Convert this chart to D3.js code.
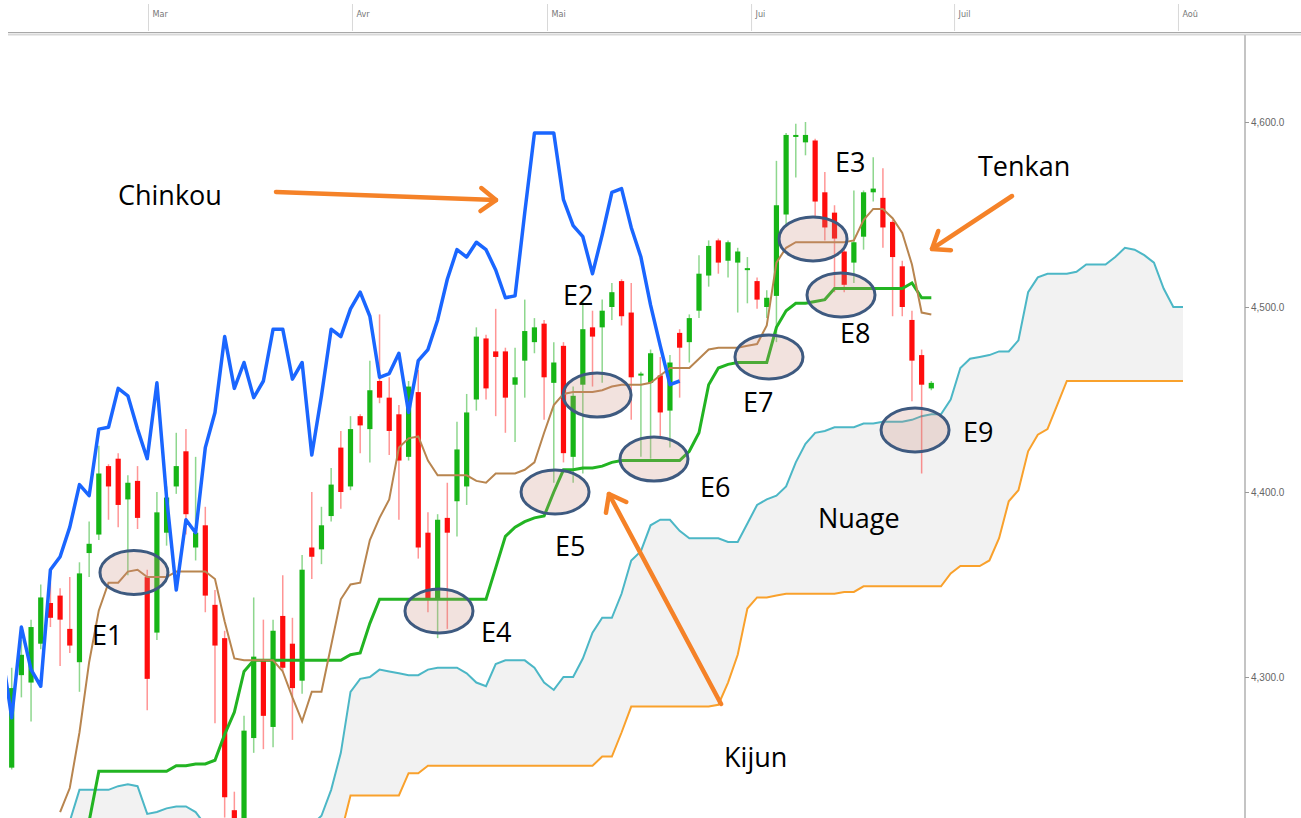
<!DOCTYPE html>
<html>
<head>
<meta charset="utf-8">
<script src="https://cdn.jsdelivr.net/npm/d3@7"></script>
<style>
  body { margin: 0; background: #fff; }
  svg { display: block; }
</style>
</head>
<body>
<div id="chart"></div>
<script>
const monthLabels = ["Mar", "Avr", "Mai", "Jui", "Juil", "Aoû"];
const monthTicks = [14.08, 35.15, 55.3, 76.38, 97.35, 120.48];
const priceTicks = [4300, 4400, 4500, 4600];

// daily candles, index 0..95
const open = [4251,4301,4297,4318,4340,4344,4326,4308,4367,4377, 4414,4418,4396,4406,4354,4324,4378,4403,4422,4370,
  4382,4339,4321,4228,4212,4267,4309,4273,4333,4318, 4298,4370,4369,4387,4424,4403,4441,4434,4460,4451,
  4442,4419,4454,4378,4342,4386,4395,4403,4450,4483, 4476,4476,4458,4471,4481,4491,4459,4479,4419,4458,
  4489,4489,4500,4514,4497,4463,4459,4463,4444,4486, 4481,4498,4517,4536,4525,4524,4520,4514,4500,4506,
  4550,4592,4589,4590,4562,4551,4530,4524,4538,4562, 4559,4546,4522,4493,4474,4456];
const high = [4305,4320,4331,4350,4351,4348,4354,4362,4384,4425, 4415,4421,4409,4414,4358,4400,4403,4432,4434,4419,
  4392,4347,4325,4238,4279,4343,4331,4331,4355,4332, 4366,4400,4392,4413,4433,4441,4442,4471,4496,4462,
  4447,4460,4466,4389,4388,4405,4438,4453,4489,4485, 4499,4478,4478,4504,4494,4493,4481,4481,4457,4503,
  4498,4504,4513,4515,4513,4465,4477,4473,4474,4488, 4496,4528,4536,4537,4536,4532,4527,4516,4509,4579,
  4594,4599,4600,4591,4573,4555,4532,4563,4563,4581, 4575,4547,4525,4498,4477,4460];
const low = [4250,4289,4276,4315,4327,4306,4313,4292,4354,4374, 4385,4381,4355,4380,4282,4320,4371,4399,4377,4363,
  4335,4275,4224,4212,4206,4259,4261,4262,4303,4266, 4291,4353,4361,4384,4391,4401,4421,4416,4448,4420,
  4385,4417,4364,4335,4321,4326,4376,4393,4444,4450, 4441,4432,4427,4451,4475,4439,4405,4416,4405,4410,
  4457,4459,4493,4490,4439,4419,4418,4430,4424,4451, 4470,4494,4511,4518,4516,4497,4502,4499,4494,4481,
  4544,4570,4582,4549,4536,4508,4508,4513,4531,4557, 4532,4495,4495,4449,4410,4455];
const close = [4294,4312,4327,4343,4332,4331,4317,4356,4372,4410, 4403,4393,4405,4386,4299,4389,4397,4414,4388,4378,
  4344,4317,4235,4217,4271,4311,4279,4325,4305,4294, 4358,4365,4382,4404,4400,4434,4436,4455,4451,4433,
  4417,4457,4370,4342,4385,4378,4423,4443,4484,4456, 4473,4451,4462,4487,4489,4462,4470,4421,4452,4488,
  4484,4498,4508,4495,4462,4464,4475,4443,4470,4478, 4494,4518,4533,4524,4535,4530,4521,4504,4505,4555,
  4593,4593,4593,4557,4543,4537,4512,4535,4562,4564, 4543,4527,4500,4471,4458,4459];

// Chinkou (lagging line), starts at index -1
const chinkouStart = -1;
const chinkou = [4313,
  4278,4327,4304,4295,4358,4365,4381,4404,4398,4434, 4435,4456,4452,4434,4418,4459,4397,4347,4385,4378,
  4424,4443,4484,4456,4470,4451,4460,4488,4488,4461, 4470,4420,4452,4488,4484,4499,4508,4495,4462,4464,
  4475,4443,4471,4477,4493,4515,4531,4527,4535,4531, 4520,4505,4506,4551,4594,4594,4594,4558,4544,4538,
  4518,4539,4562,4564,4543,4527,4501,4479,4458,4460];

// Tenkan, starts at index 5
const tenkanStart = 5;
const tenkan = [4227,4240,4270,4308,4336, 4351,4351,4357,4358,4354, 4354,4354,4357,4357,4357,
  4357,4353,4330,4310,4309, 4309,4309,4309,4303,4289, 4276,4292,4292,4317,4342,
  4350,4351,4374,4386,4396, 4424,4429,4430,4417,4409, 4409,4409,4409,4406,4405,
  4410,4410,4410,4412,4416, 4432,4447,4453,4454,4454, 4454,4455,4457,4458,4458,
  4458,4459,4463,4467,4467, 4467,4472,4477,4478,4478, 4478,4479,4480,4490,4524,
  4532,4535,4535,4535,4535, 4535,4535,4536,4547,4553, 4553,4548,4540,4523,4497, 4496];

// Kijun, starts at index 8
const kijunStart = 8;
const kijun = [4222,4249, 4249,4249,4249,4249,4249, 4249,4249,4252,4252,4253,
  4253,4255,4269,4281,4303, 4309,4309,4309,4309,4309, 4309,4309,4309,4309,4309,
  4312,4313,4329,4342,4342, 4342,4342,4342,4342,4342, 4342,4342,4342,4342,4342,
  4359,4376,4381,4384,4386, 4387,4400,4412,4412,4413, 4413,4414,4416,4417,4417,
  4417,4417,4417,4417,4417, 4422,4432,4458,4467,4469, 4470,4470,4470,4470,4489,
  4498,4502,4502,4503,4504, 4510,4510,4510,4510,4510, 4510,4510,4510,4513,4505, 4505];

// Senkou A / B (cloud), start at index 6, run to 121
const cloudStart = 6;
const senkouA = [4222,4239,4239,4239, 4239,4241,4242,4241,4226, 4227,4229,4230,4230,4227,
  4220,4214,4212,4210,4210, 4210,4211,4212,4212,4213, 4215,4220,4225,4239,4259,
  4292,4299,4300,4304,4303, 4302,4301,4301,4304,4305, 4305,4305,4302,4297,4295,
  4307,4309,4309,4309,4305, 4297,4293,4300,4300,4310, 4324,4332,4332,4345,4363,
  4368,4382,4385,4385,4379, 4375,4375,4375,4375,4373, 4373,4383,4393,4396,4398,
  4403,4416,4426,4432,4433, 4435,4435,4435,4437,4437, 4438,4438,4438,4439,4441,
  4442,4442,4450,4467,4472, 4473,4474,4476,4476,4482, 4508,4516,4518,4518,4518,
  4519,4523,4523,4523,4527, 4532,4531,4528,4524,4510, 4500,4500];
const senkouB = [4200,4200,4200,4200, 4200,4200,4200,4200,4200, 4200,4200,4200,4200,4200,
  4200,4200,4200,4200,4200, 4200,4200,4200,4200,4200, 4200,4200,4200,4200,4215,
  4236,4236,4236,4236,4236, 4236,4248,4248,4252,4252, 4252,4252,4252,4252,4252,
  4252,4252,4252,4252,4252, 4252,4252,4252,4252,4252, 4252,4257,4257,4270,4284,
  4284,4284,4284,4284,4284, 4284,4284,4284,4285,4297, 4312,4337,4343,4343,4344,
  4345,4345,4345,4345,4345, 4345,4346,4346,4349,4349, 4349,4349,4349,4349,4349,
  4349,4349,4356,4360,4360, 4360,4363,4375,4395,4401, 4422,4431,4434,4447,4460,
  4460,4460,4460,4460,4460, 4460,4460,4460,4460,4460, 4460,4460];

// annotations in data space (index, price)
const zones = [
  { name: "E1", i: 12.63, p: 4356.5, ti: 8.30,  tp: 4317.3 },
  { name: "E4", i: 44.14, p: 4335.7, ti: 48.48, tp: 4318.9 },
  { name: "E5", i: 56.13, p: 4400.0, ti: 56.13, tp: 4365.4 },
  { name: "E2", i: 60.47, p: 4452.4, ti: 56.95, tp: 4501.1 },
  { name: "E6", i: 66.35, p: 4417.8, ti: 71.10, tp: 4397.3 },
  { name: "E7", i: 78.23, p: 4473.0, ti: 75.55, tp: 4443.2 },
  { name: "E3", i: 82.78, p: 4536.8, ti: 85.05, tp: 4573.0 },
  { name: "E8", i: 85.67, p: 4506.5, ti: 85.57, tp: 4480.5 },
  { name: "E9", i: 93.32, p: 4433.5, ti: 98.27, tp: 4427.0 }
];
const notes = [
  { text: "Chinkou", i: 10.98, p: 4555.1 },
  { text: "Tenkan",  i: 99.82, p: 4570.8 },
  { text: "Nuage",   i: 83.29, p: 4380.5 },
  { text: "Kijun",   i: 73.59, p: 4251.4 }
];
const arrows = [
  { from: [27.30, 4562.2],  to: [50.03, 4557.8] },
  { from: [103.34, 4560.0], to: [95.07, 4531.4] },
  { from: [73.28, 4285.4],  to: [61.70, 4398.9] }
];

const W = 1301, H = 818;
const plotLeft = 7, plotRight = 1245, plotTop = 36, plotBottom = H;

const x = d3.scaleLinear().domain([0, 121]).range([11.7, 1183]);
const y = d3.scaleLinear().domain([4300, 4600]).range([677, 122]);

const svg = d3.select("#chart").append("svg")
  .attr("width", W)
  .attr("height", H);

svg.append("defs").append("clipPath")
  .attr("id", "plot-clip")
  .append("rect")
  .attr("x", plotLeft)
  .attr("y", plotTop)
  .attr("width", plotRight - plotLeft)
  .attr("height", plotBottom - plotTop);

const plot = svg.append("g").attr("clip-path", "url(#plot-clip)");

const series = (arr, start) => arr.map((v, k) => ({ i: k + start, v }));
const cloud = senkouA.map((a, k) => ({ i: k + cloudStart, a, b: senkouB[k] }));

// cloud
plot.append("path")
  .datum(cloud)
  .attr("fill", "#f2f2f2")
  .attr("d", d3.area().x(d => x(d.i)).y0(d => y(d.b)).y1(d => y(d.a)));

const line = d3.line().x(d => x(d.i)).y(d => y(d.v));

plot.append("path")
  .datum(series(senkouB, cloudStart))
  .attr("fill", "none")
  .attr("stroke", "#f9a12c")
  .attr("stroke-width", 2)
  .attr("d", line);

plot.append("path")
  .datum(series(senkouA, cloudStart))
  .attr("fill", "none")
  .attr("stroke", "#4cb7c6")
  .attr("stroke-width", 2)
  .attr("d", line);

// candles
const candles = open.map((o, i) => ({ i, o, h: high[i], l: low[i], c: close[i] }));
const cg = plot.append("g").selectAll("g")
  .data(candles)
  .join("g");

cg.append("line")
  .attr("x1", d => x(d.i))
  .attr("x2", d => x(d.i))
  .attr("y1", d => y(d.h))
  .attr("y2", d => y(d.l))
  .attr("stroke", d => d.c >= d.o ? "rgba(30,175,30,0.5)" : "rgba(255,20,20,0.45)")
  .attr("stroke-width", 1.5);

cg.append("rect")
  .attr("x", d => x(d.i) - 2.6)
  .attr("width", 5.2)
  .attr("y", d => y(Math.max(d.o, d.c)))
  .attr("height", d => Math.max(2, Math.abs(y(d.o) - y(d.c))))
  .attr("fill", d => d.c >= d.o ? "#16b516" : "#ff0d0d");

plot.append("path")
  .datum(series(kijun, kijunStart))
  .attr("fill", "none")
  .attr("stroke", "#22b422")
  .attr("stroke-width", 3)
  .attr("d", line);

plot.append("path")
  .datum(series(tenkan, tenkanStart))
  .attr("fill", "none")
  .attr("stroke", "#b8854f")
  .attr("stroke-width", 2)
  .attr("d", line);

plot.append("path")
  .datum(series(chinkou, chinkouStart))
  .attr("fill", "none")
  .attr("stroke", "#1a66ff")
  .attr("stroke-width", 3.5)
  .attr("stroke-linejoin", "round")
  .attr("d", line);

// header band with months
svg.append("g")
  .attr("transform", "translate(0,4)")
  .call(d3.axisBottom(x).tickValues(monthTicks).tickSize(27).tickFormat((d, i) => monthLabels[i]))
  .call(g => g.select(".domain").remove())
  .call(g => g.selectAll(".tick line").attr("stroke", "#d8d8d8"))
  .call(g => g.selectAll(".tick text")
    .attr("y", 7)
    .attr("x", 4)
    .attr("dy", "0.71em")
    .attr("text-anchor", "start")
    .attr("fill", "#777")
    .style("font", "9px 'Liberation Sans Narrow', 'DejaVu Sans Condensed', sans-serif"));

svg.append("line")
  .attr("x1", 8).attr("x2", W)
  .attr("y1", 32.5).attr("y2", 32.5)
  .attr("stroke", "#a8a8a8").attr("stroke-width", 1.2);
svg.append("line")
  .attr("x1", 8).attr("x2", W)
  .attr("y1", 34.5).attr("y2", 34.5)
  .attr("stroke", "#d8d8d8").attr("stroke-width", 2);

// right price axis
svg.append("line")
  .attr("x1", 1245).attr("x2", 1245)
  .attr("y1", 35).attr("y2", H)
  .attr("stroke", "#c4c4c4").attr("stroke-width", 2);

svg.append("g")
  .attr("transform", "translate(1245,0)")
  .call(d3.axisRight(y).tickValues(priceTicks).tickSize(4).tickPadding(2).tickFormat(d3.format(",.1f")))
  .call(g => g.select(".domain").remove())
  .call(g => g.selectAll(".tick line").attr("stroke", "#999"))
  .call(g => g.selectAll(".tick text")
    .attr("fill", "#666")
    .style("font", "10px 'Liberation Sans', Arial, sans-serif"));

// zones
svg.append("g").selectAll("ellipse")
  .data(zones)
  .join("ellipse")
  .attr("cx", d => x(d.i))
  .attr("cy", d => y(d.p))
  .attr("rx", 34)
  .attr("ry", 22)
  .attr("fill", "rgba(205,140,125,0.25)")
  .attr("stroke", "#3e5a80")
  .attr("stroke-width", 3);

const labelFont = "27px 'Open Sans', sans-serif";

svg.append("g").selectAll("text")
  .data(zones)
  .join("text")
  .attr("x", d => x(d.ti))
  .attr("y", d => y(d.tp))
  .style("font", labelFont)
  .attr("fill", "#000")
  .text(d => d.name);

svg.append("g").selectAll("text")
  .data(notes)
  .join("text")
  .attr("x", d => x(d.i))
  .attr("y", d => y(d.p))
  .style("font", labelFont)
  .attr("fill", "#000")
  .text(d => d.text);

// orange arrows
const ag = svg.append("g")
  .attr("fill", "none")
  .attr("stroke", "#f58228")
  .attr("stroke-linecap", "round")
  .attr("stroke-linejoin", "round");

arrows.forEach(a => {
  const x0 = x(a.from[0]), y0 = y(a.from[1]);
  const x1 = x(a.to[0]), y1 = y(a.to[1]);
  const ang = Math.atan2(y0 - y1, x0 - x1);
  const len = 19, spread = 0.65;
  ag.append("line")
    .attr("x1", x0).attr("y1", y0)
    .attr("x2", x1).attr("y2", y1)
    .attr("stroke-width", 4.5);
  ag.append("path")
    .attr("stroke-width", 4.5)
    .attr("d", `M${x1 + len * Math.cos(ang + spread)},${y1 + len * Math.sin(ang + spread)}`
      + `L${x1},${y1}`
      + `L${x1 + len * Math.cos(ang - spread)},${y1 + len * Math.sin(ang - spread)}`);
});
</script>
</body>
</html>
